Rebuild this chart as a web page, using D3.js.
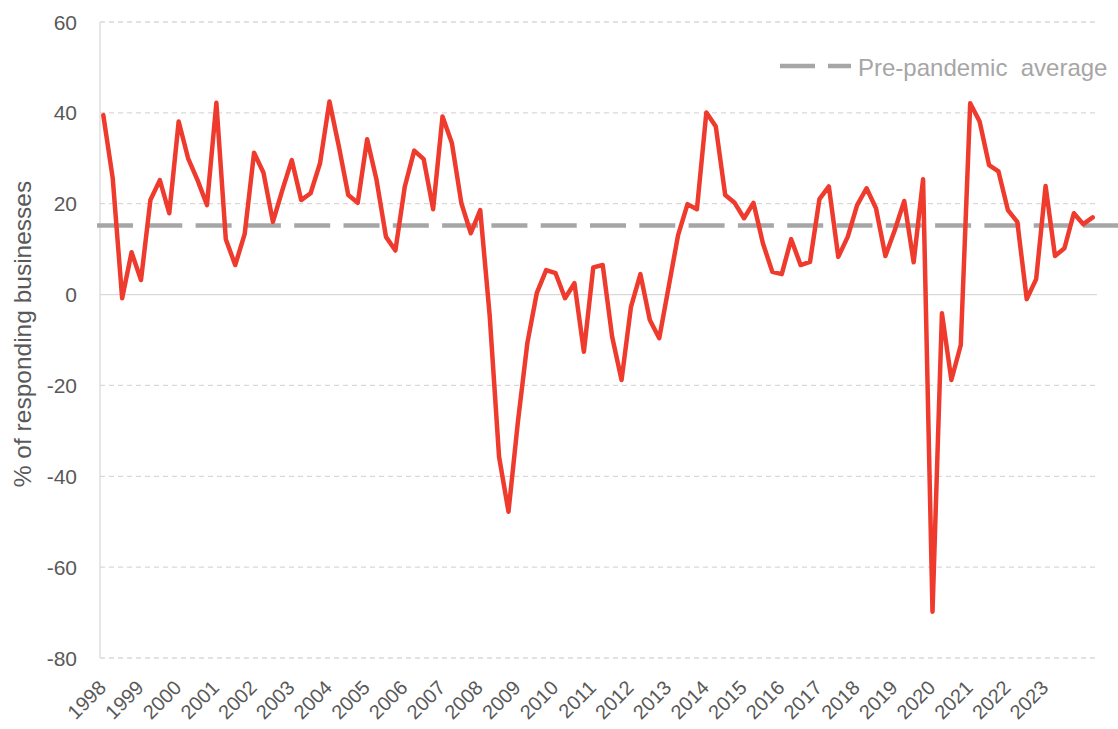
<!DOCTYPE html>
<html>
<head>
<meta charset="utf-8">
<script src="https://cdn.jsdelivr.net/npm/d3@7"></script>
<style>
  html, body { margin: 0; padding: 0; background: #fff; }
  text { font-family: "Liberation Sans", Arial, sans-serif; }
</style>
</head>
<body>
<svg id="chart" width="1118" height="729"></svg>
<script>
// ---- data (quarterly, 1998 Q1 onwards) ----
const values = [
  39.5, 25.6, -0.8, 9.3, 3.2, 20.8, 25.2, 17.9, 38.1, 30.0,
  25.2, 19.7, 42.2, 12.2, 6.5, 13.3, 31.2, 26.8, 16.0, 23.0,
  29.6, 20.8, 22.3, 28.9, 42.5, 32.6, 21.9, 20.2, 34.2, 25.2,
  12.7, 9.7, 23.8, 31.7, 29.8, 18.8, 39.2, 33.3, 20.1, 13.5,
  18.6, -4.5, -35.7, -47.8, -28.0, -10.7, 0.3, 5.4, 4.7, -0.8,
  2.5, -12.6, 6.0, 6.5, -9.3, -18.8, -2.7, 4.5, -5.6, -9.6,
  1.7, 13.1, 19.9, 18.8, 40.1, 37.0, 21.9, 20.2, 16.8, 20.2,
  11.3, 5.0, 4.5, 12.2, 6.5, 7.2, 21.0, 23.8, 8.3, 12.7,
  19.7, 23.4, 19.0, 8.5, 14.2, 20.6, 7.1, 25.4, -69.8, -4.1,
  -18.8, -11.1, 42.1, 38.1, 28.5, 27.1, 18.6, 16.0, -1.0, 3.4,
  23.9, 8.5, 10.2, 17.9, 15.5, 17.0
];
const prePandemicAverage = 15.2;
const yearLabels = ["1998","1999","2000","2001","2002","2003","2004","2005","2006","2007","2008","2009","2010",
                    "2011","2012","2013","2014","2015","2016","2017","2018","2019","2020","2021","2022","2023"];
const yTicks = [-80, -60, -40, -20, 0, 20, 40, 60];
const yTitle = "% of responding businesses";
const legendLabel = "Pre-pandemic  average";

// ---- layout ----
const svg = d3.select("#chart");
const plotLeft = 100, plotRight = 1097, plotTop = 22, plotBottom = 658;
const x = d3.scaleLinear().domain([0, values.length - 1]).range([103.3, 1092.7]);
const y = d3.scaleLinear().domain([-80, 60]).range([plotBottom, plotTop]);

const textCol = "#595959";
const gridCol = "#d9d9d9";
const avgCol = "#a6a6a6";
const lineCol = "#ee3b2d";

// gridlines
svg.append("g").selectAll("line").data(yTicks).join("line")
  .attr("x1", plotLeft).attr("x2", plotRight)
  .attr("y1", d => y(d)).attr("y2", d => y(d))
  .attr("stroke", gridCol).attr("stroke-width", 1.3)
  .attr("stroke-dasharray", d => d === 0 ? null : "5,4");

// y axis line
svg.append("line")
  .attr("x1", plotLeft).attr("x2", plotLeft)
  .attr("y1", y(60)).attr("y2", y(-80))
  .attr("stroke", gridCol).attr("stroke-width", 1.3);

// y tick labels
svg.append("g").selectAll("text").data(yTicks).join("text")
  .attr("x", 77).attr("y", d => y(d))
  .attr("text-anchor", "end").attr("dominant-baseline", "central")
  .attr("font-size", 21).attr("fill", textCol)
  .text(d => d);

// y title
svg.append("text")
  .attr("transform", "translate(31,334) rotate(-90)")
  .attr("text-anchor", "middle")
  .attr("font-size", 24.5).attr("fill", textCol)
  .text(yTitle);

// x labels
svg.append("g").selectAll("text").data(yearLabels).join("text")
  .attr("transform", (d, i) => `translate(${x(i * 4) + 4},689) rotate(-45)`)
  .attr("text-anchor", "end")
  .attr("font-size", 20).attr("fill", textCol)
  .text(d => d);

// pre-pandemic average
svg.append("line")
  .attr("x1", 97).attr("x2", 1118)
  .attr("y1", y(prePandemicAverage)).attr("y2", y(prePandemicAverage))
  .attr("stroke", avgCol).attr("stroke-width", 4.5)
  .attr("stroke-dasharray", "36,13.3");

// main series
const line = d3.line().x((d, i) => x(i)).y(d => y(d));
svg.append("path").datum(values)
  .attr("d", line)
  .attr("fill", "none").attr("stroke", lineCol)
  .attr("stroke-width", 4.5).attr("stroke-linejoin", "round").attr("stroke-linecap", "round");

// legend
svg.append("line")
  .attr("x1", 780).attr("x2", 851).attr("y1", 66).attr("y2", 66)
  .attr("stroke", avgCol).attr("stroke-width", 4.5)
  .attr("stroke-dasharray", "35,13");
svg.append("text")
  .attr("x", 858).attr("y", 67)
  .attr("dominant-baseline", "central")
  .attr("font-size", 24).attr("fill", avgCol)
  .style("white-space", "pre")
  .text(legendLabel);
</script>
</body>
</html>
